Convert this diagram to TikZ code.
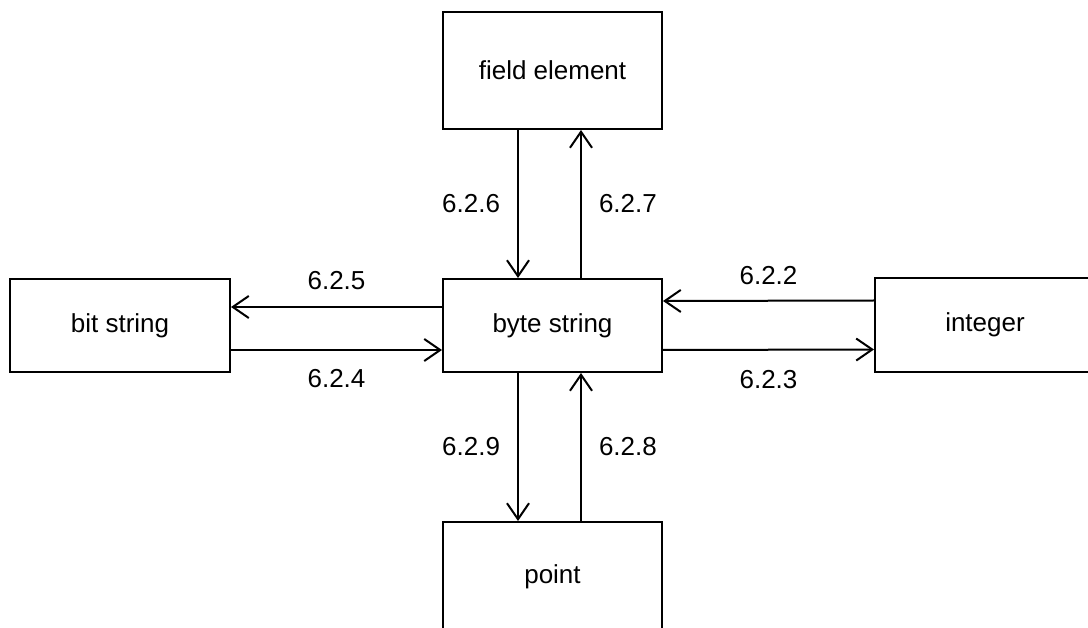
\documentclass[tikz,border=0pt]{standalone}
\usepackage{fontspec}
\setmainfont{Liberation Sans}
\usetikzlibrary{arrows.meta}
\begin{document}
\begin{tikzpicture}[x=1pt,y=-1pt,
  box/.style={draw=black, line width=2pt, rectangle, minimum width=219pt, inner sep=0pt, font=\fontsize{26}{30}\selectfont},
  arr/.style={line width=2pt, -{Straight Barb[length=16pt,width=22pt,line width=2pt]}},
  lbl/.style={inner sep=0pt, font=\fontsize{26}{30}\selectfont}]
\useasboundingbox (0,0) rectangle (1088,628);
\node[box, minimum height=117pt] (fe) at (552.5,70.5) {field element};
\node[box, minimum width=220pt, minimum height=93pt] (bits) at (120,325.5) {bit string};
\node[box, minimum height=93pt] (byte) at (552.5,325.5) {byte string};
\node[box, minimum width=220pt, minimum height=94pt] (int) at (985,325) {integer};
\node[box, minimum height=110pt] (pt) at (552.5,577) {point};
% vertical, top
\draw[arr] ([xshift=-34.5pt]fe.south) -- node[lbl, midway, left=17pt] {6.2.6} ([xshift=-34.5pt]byte.north);
\draw[arr] ([xshift=28.5pt]byte.north) -- node[lbl, midway, right=17pt] {6.2.7} ([xshift=28.5pt]fe.south);
% horizontal, left
\draw[arr] ([yshift=18.5pt]byte.west) -- node[lbl, midway, above=16pt] {6.2.5} ([yshift=18.5pt]bits.east);
\draw[arr] ([yshift=-24.5pt]bits.east) -- node[lbl, midway, below=18pt] {6.2.4} ([yshift=-24.5pt]byte.west);
% horizontal, right
\draw[arr] ([yshift=24.5pt]int.west) -- node[lbl, midway, above=15pt] {6.2.2} ([yshift=24.5pt]byte.east);
\draw[arr] ([yshift=-24.5pt]byte.east) -- node[lbl, midway, below=20pt] {6.2.3} ([yshift=-24.5pt]int.west);
% vertical, bottom
\draw[arr] ([xshift=-34.5pt]byte.south) -- node[lbl, midway, left=17pt] {6.2.9} ([xshift=-34.5pt]pt.north);
\draw[arr] ([xshift=28.5pt]pt.north) -- node[lbl, midway, right=17pt] {6.2.8} ([xshift=28.5pt]byte.south);
\end{tikzpicture}
\end{document}
